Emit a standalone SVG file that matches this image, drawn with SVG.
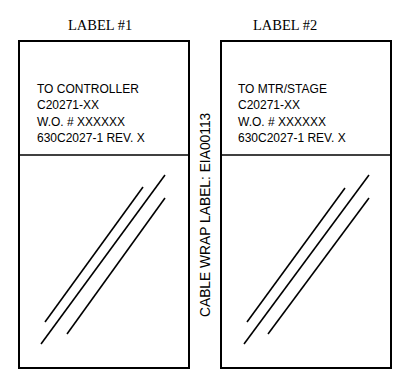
<svg xmlns="http://www.w3.org/2000/svg" width="398" height="372" viewBox="0 0 398 372">
<style>
.box{fill:#fff;stroke:#000;stroke-width:2}
.div{stroke:#000;stroke-width:1.5}
.hatch{stroke:#000;stroke-width:1.6;fill:none}
.title{font-family:"Liberation Serif",serif;font-size:14.5px;fill:#000}
.body{font-family:"Liberation Sans",Arial,sans-serif;font-size:12px;fill:#000}
.side{font-family:"Liberation Sans",Arial,sans-serif;font-size:13.8px;fill:#000}
</style>
<rect width="398" height="372" fill="#fff"/>
<g id="label1">
<text class="title" x="68" y="30">LABEL #1</text>
<rect class="box" x="19" y="41" width="170" height="327"/>
<line class="div" x1="19" y1="155" x2="189" y2="155"/>
<text class="body" x="37" y="92.5">TO CONTROLLER</text>
<text class="body" x="37" y="109">C20271-XX</text>
<text class="body" x="37" y="125.5">W.O. # XXXXXX</text>
<text class="body" x="37" y="142">630C2027-1 REV. X</text>
<g class="hatch">
<line x1="45" y1="322" x2="143" y2="187"/>
<line x1="41" y1="344" x2="165" y2="175"/>
<line x1="67" y1="334" x2="165" y2="198"/>
</g>
</g>
<g id="label2">
<text class="title" x="253" y="30">LABEL #2</text>
<rect class="box" x="221" y="41" width="170" height="327"/>
<line class="div" x1="221" y1="155" x2="391" y2="155"/>
<text class="body" x="238" y="92.5">TO MTR/STAGE</text>
<text class="body" x="238" y="109">C20271-XX</text>
<text class="body" x="238" y="125.5">W.O. # XXXXXX</text>
<text class="body" x="238" y="142">630C2027-1 REV. X</text>
<g class="hatch">
<line x1="247" y1="322" x2="345" y2="188"/>
<line x1="244" y1="344" x2="369" y2="175"/>
<line x1="268" y1="334" x2="369" y2="198"/>
</g>
</g>
<g id="cable-label">
<text class="side" transform="translate(210,317) rotate(-90)">CABLE WRAP LABEL: EIA00113</text>
</g>
<g id="connectors"></g>
</svg>
